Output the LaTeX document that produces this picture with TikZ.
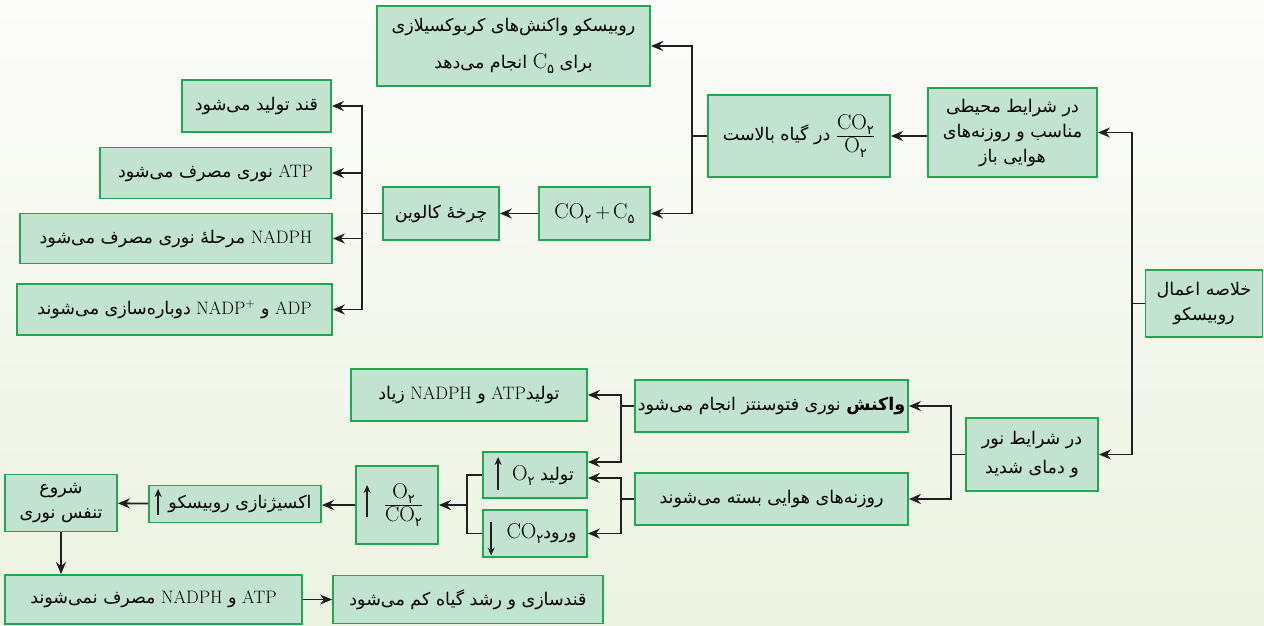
\documentclass[tikz,border=0pt]{standalone}
\usepackage{fontspec}
\usetikzlibrary{arrows.meta}

\TeXXeTstate=1
\newfontfamily\farsi[Script=Arabic]{DejaVu Sans}
\newcommand\zwnj{^^^^200c}
\newcommand\fa[1]{{\farsi\beginR #1\endR}}
\newcommand\en[1]{{\rmfamily\fontsize{18}{25}\selectfont\beginL #1\endL}}
% formula with a Persian digit as index
\newcommand\chem[2]{{\rmfamily\fontsize{21.5}{25}\selectfont\beginL #1\raisebox{-5pt}{\farsi\fontsize{13}{13}\selectfont #2}\endL}}
\newcommand\frc[2]{$\displaystyle\frac{\mbox{#1}}{\mbox{#2}}$}

\definecolor{boxfill}{HTML}{C3E3D1}
\definecolor{boxline}{HTML}{1FA84F}
\definecolor{linkcolor}{HTML}{231F20}
\definecolor{bgtop}{HTML}{FCFCFA}
\definecolor{bgbottom}{HTML}{ECF3E1}

\begin{document}
\begin{tikzpicture}[x=1pt,y=-1pt,>={Stealth[length=12pt,width=10pt]},line width=1.8pt,
                    box/.style={rectangle,draw=boxline,fill=boxfill,inner sep=1pt,align=center,
                                font=\farsi\fontsize{17.5}{25}\selectfont},
                    link/.style={draw=linkcolor},
                    updown/.style={draw=linkcolor,-{Stealth[length=8pt,width=7pt]}}]

  \shade[top color=bgtop,bottom color=bgbottom] (0,0) rectangle (1264,626);
  \useasboundingbox (0,0) rectangle (1264,626);

  % upper branch
  \node[box,minimum width=117,minimum height=67] (summary) at (1204,303.5) {\fa{خلاصه اعمال}\\\fa{روبیسکو}};
  \node[box,minimum width=169,minimum height=89] (normal) at (1012.5,132.5) {\fa{در شرایط محیطی}\\\fa{مناسب و روزنه\zwnj های}\\\fa{هوایی باز}};
  \node[box,minimum width=182,minimum height=82] (high) at (799,136) {\fa{\frc{\chem{CO}{۲}}{\chem{O}{۲}} در گیاه بالاست}};
  \node[box,minimum width=273,minimum height=80] (carbox) at (513.5,46) {\fa{روبیسکو واکنش\zwnj های کربوکسیلازی}\\[12pt]\fa{برای \chem{C}{۵} انجام می\zwnj دهد}};
  \node[box,minimum width=111,minimum height=53] (fixation) at (594.5,213.5) {\chem{CO}{۲}\hspace{4pt}{\rmfamily\fontsize{21.5}{25}\selectfont$+$}\hspace{3pt}\chem{C}{۵}};
  \node[box,minimum width=116,minimum height=53] (calvin) at (441,213.5) {\fa{چرخهٔ کالوین}};
  \node[box,minimum width=149,minimum height=52] (sugar) at (256.5,106) {\fa{قند تولید می\zwnj شود}};
  \node[box,minimum width=231,minimum height=51] (atpuse) at (215.5,173) {\fa{\en{ATP} نوری مصرف می\zwnj شود}};
  \node[box,minimum width=312,minimum height=50] (nadphuse) at (176,238.5) {\fa{\en{NADPH} مرحلهٔ نوری مصرف می\zwnj شود}};
  \node[box,minimum width=315,minimum height=51] (regen) at (174.5,309.5) {\fa{\en{ADP} و \en{NADP\textsuperscript{+}} دوباره\zwnj سازی می\zwnj شوند}};

  % lower branch
  \node[box,minimum width=132,minimum height=73] (strong) at (1032,454.5) {\fa{در شرایط نور}\\[4pt]\fa{و دمای شدید}};
  \node[box,minimum width=273,minimum height=52] (lightrx) at (771.5,406) {\fa{{\bfseries واکنش} نوری فتوسنتز انجام می\zwnj شود}};
  \node[box,minimum width=273,minimum height=52] (stomata) at (771.5,499) {\fa{روزنه\zwnj های هوایی بسته می\zwnj شوند}};
  \node[box,minimum width=236,minimum height=52] (atpmore) at (469,395) {\fa{تولید\en{ATP} و \en{NADPH} زیاد}};
  \node[box,minimum width=104,minimum height=46] (o2up) at (535,475) {\hspace*{16pt}\fa{تولید \chem{O}{۲}}};
  \node[box,minimum width=104,minimum height=47] (co2down) at (535,533.5) {\hspace*{13pt}\fa{ورود\chem{CO}{۲}}};
  \node[box,minimum width=82,minimum height=78] (ratio) at (397,505) {\hspace*{13pt}\frc{\chem{O}{۲}}{\chem{CO}{۲}}};
  \node[box,minimum width=172,minimum height=37] (oxy) at (235,504) {\hspace*{10pt}\fa{اکسیژنازی روبیسکو}};
  \node[box,minimum width=112,minimum height=57] (photoresp) at (61,503) {\fa{شروع}\\\fa{تنفس نوری}};
  \node[box,minimum width=297,minimum height=49] (noconsume) at (153.5,599.5) {\fa{\en{ATP} و \en{NADPH} مصرف نمی\zwnj شوند}};
  \node[box,minimum width=270,minimum height=48] (lessgrowth) at (468,599.5) {\fa{قندسازی و رشد گیاه کم می\zwnj شود}};

  % up and down marks inside the boxes
  \draw[updown] ([xshift=16pt,yshift=-15pt]o2up.west) -- ++(0,-33);
  \draw[updown] ([xshift=9pt,yshift=12pt]co2down.west) -- ++(0,34);
  \draw[updown] ([xshift=12pt,yshift=-12pt]ratio.west) -- ++(0,-32);
  \draw[updown] ([xshift=10pt,yshift=-11pt]oxy.west) -- ++(0,-26);

  % connectors
  \draw[link,->] (summary.west) -- ++(-13,0) |- (normal.east);
  \draw[link,->] (summary.west) -- ++(-13,0) |- (strong.east);
  \draw[link,->] (normal.west |- high) -- (high.east);
  \draw[link,->] (high.west) -- ++(-15,0) |- (carbox.east);
  \draw[link,->] (high.west) -- ++(-15,0) |- (fixation.east);
  \draw[link,->] (fixation) -- (calvin);
  \foreach \n in {sugar,atpuse,nadphuse,regen}
    \draw[link,->] (calvin.west) -- ++(-20,0) |- (\n.east);

  \draw[link,->] (strong.west) -- ++(-14,0) |- (lightrx.east);
  \draw[link,->] (strong.west) -- ++(-14,0) |- (stomata.east);
  \draw[link,->] (lightrx.west) -- ++(-13,0) |- (atpmore.east);
  \draw[link,->] (lightrx.west) -- ++(-13,0) |- ([yshift=13pt]o2up.east);
  \draw[link,->] (stomata.west) -- ++(-13,0) |- ([yshift=-3pt]o2up.east);
  \draw[link,->] (stomata.west) -- ++(-13,0) |- (co2down.east);
  \draw[link] (o2up.west) -- ++(-15,0) |- (co2down.west);
  \draw[link,->] (o2up.west) ++(-15,0) |- (ratio.east);
  \draw[link,->] (ratio) -- (ratio -| oxy.east);
  \draw[link,->] (oxy) -- (photoresp);
  \draw[link,->] (photoresp) -- (photoresp |- noconsume.north);
  \draw[link,->] (noconsume) -- (lessgrowth);
\end{tikzpicture}
\end{document}
